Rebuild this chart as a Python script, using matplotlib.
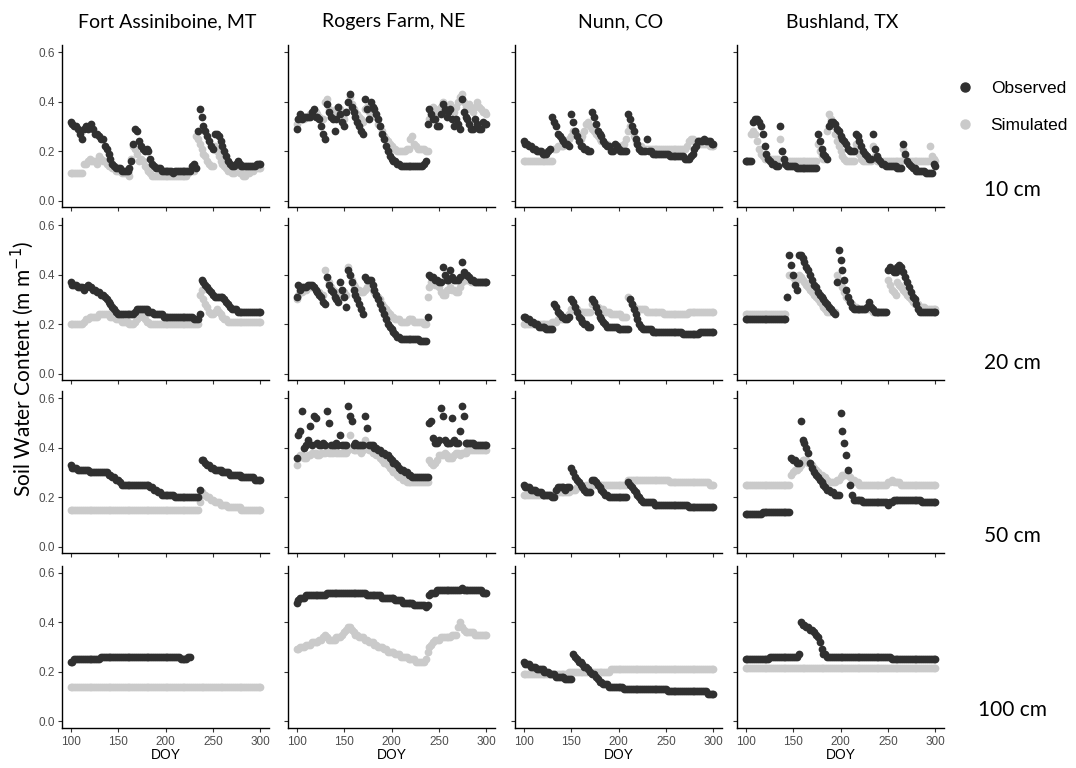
import numpy as np
import matplotlib
matplotlib.use('Agg')
import matplotlib.pyplot as plt
from matplotlib.lines import Line2D

# soil water content (percent by volume), every 2nd DOY from 100 to 300
# None = no data

fa_10_obs = [32,31,30,30,29,27,25,29,30,29,
             30,31,29,27,27,26,25,25,22,21,
             19,17,15,14,13,13,13,12,12,12,
             12,13,16,23,29,28,24,22,21,20,
             21,20,17,15,14,13,13,13,12,12,
             12,12,12,12,11,12,12,12,12,12,
             12,12,12,12,14,15,13,28,37,34,
             30,28,26,24,22,21,27,27,26,24,
             22,20,18,16,15,14,14,15,16,15,
             14,14,14,14,14,14,14,14,15,15,
             15]
fa_10_sim = [11,11,11,11,11,11,11,15,15,16,
             17,16,16,16,15,18,17,16,16,15,
             14,14,13,13,12,12,12,11,11,11,
             11,10,17,22,21,19,16,17,16,14,
             13,12,11,10,10,10,10,10,10,10,
             10,10,10,10,10,10,10,10,10,10,
             10,10,11,12,12,12,26,25,23,21,
             19,18,16,15,14,14,22,20,18,16,
             15,14,13,12,12,11,11,13,12,11,
             11,10,10,11,11,12,12,13,13,13,
             13]
rf_10_obs = [29,33,35,33,34,34,34,34,36,37,
             34,34,33,30,27,25,39,36,34,33,
             28,33,38,35,32,30,36,40,43,38,
             36,34,32,30,28,27,41,37,33,40,
             38,37,35,33,30,27,25,22,20,18,
             17,16,16,15,15,14,14,14,14,14,
             14,14,14,14,14,14,14,15,16,31,
             37,35,33,33,30,30,35,39,37,34,
             36,37,33,30,33,31,29,41,36,34,
             33,31,29,29,33,31,29,29,32,31,
             31]
rf_10_sim = [31,33,34,33,33,34,34,35,35,35,
             36,35,34,33,33,40,41,37,35,36,
             35,37,38,37,35,33,36,40,42,39,
             37,36,35,34,33,32,37,38,36,37,
             36,35,34,31,30,28,26,25,24,23,
             22,21,21,20,20,20,20,20,21,21,
             25,26,23,22,21,21,21,21,20,20,
             33,36,38,37,35,36,38,40,38,37,
             38,39,37,36,38,40,42,43,40,38,
             37,39,37,36,38,40,38,37,36,36,
             35]
nu_10_obs = [24,23,23,22,22,21,21,20,20,20,
             19,19,19,20,21,34,32,30,27,26,
             25,24,23,23,22,35,32,28,26,24,
             22,22,21,21,20,20,36,34,31,28,
             27,26,24,23,22,22,20,20,23,22,
             21,20,20,20,20,35,33,30,28,25,
             23,21,20,20,20,25,20,20,19,19,
             19,19,19,19,19,19,19,18,18,18,
             18,18,18,18,18,17,17,17,18,19,
             21,22,24,24,24,25,24,24,24,23,
             23]
nu_10_sim = [16,16,16,16,16,16,16,16,16,16,
             16,16,16,16,16,16,21,21,22,22,
             22,22,23,24,25,26,28,28,27,26,
             25,26,28,31,32,30,29,28,27,26,
             25,24,24,23,23,22,22,22,22,22,
             22,22,22,23,25,28,30,28,26,24,
             23,22,22,21,21,21,21,21,21,21,
             21,21,21,21,21,21,21,21,21,21,
             21,21,21,21,21,21,22,24,25,25,
             24,24,24,23,23,23,23,23,22,22,
             22]
bu_10_obs = [16,16,16,16,32,33,33,32,30,27,
             22,19,17,16,15,15,14,14,30,20,
             17,15,14,14,14,14,14,13,13,13,
             13,13,13,13,13,13,13,13,27,24,
             21,19,18,17,30,32,32,31,29,28,
             26,25,24,23,21,20,20,20,27,26,
             24,22,20,19,18,17,17,27,21,18,
             17,16,15,15,14,14,14,14,14,14,
             13,13,13,23,19,16,15,14,13,13,
             12,12,12,12,12,11,11,11,11,15,
             14]
bu_10_sim = [16,16,16,27,28,27,24,21,19,18,
             17,17,17,17,17,17,17,17,25,20,
             17,16,16,16,16,16,16,16,16,16,
             16,16,16,16,16,16,16,16,23,20,
             18,17,17,28,35,33,30,27,24,22,
             20,18,17,16,16,16,16,16,23,21,
             19,17,16,16,16,16,16,22,18,16,
             16,16,16,16,16,16,16,16,16,16,
             16,16,16,21,18,16,16,16,16,16,
             16,16,16,16,16,16,16,22,18,17,
             16]

fa_20_obs = [37,36,36,36,35,35,35,34,35,36,
             35,35,34,34,33,33,32,32,31,30,
             29,28,27,26,25,24,24,24,24,24,
             24,24,24,24,25,26,26,26,26,26,
             26,25,25,25,24,24,24,24,24,23,
             23,23,23,23,23,23,23,23,23,23,
             23,23,23,23,23,22,22,22,24,38,
             37,36,35,34,33,32,31,31,31,31,
             31,30,29,28,27,26,26,26,25,25,
             25,25,25,25,25,25,25,25,25,25,
             25]
fa_20_sim = [20,20,20,20,20,20,20,21,22,22,
             23,23,23,23,23,24,24,24,24,24,
             24,23,23,23,22,22,22,21,21,21,
             21,20,20,20,21,22,23,24,23,22,
             21,21,20,20,20,20,20,20,20,20,
             20,20,20,20,20,20,20,20,20,20,
             20,20,20,20,20,20,20,20,32,34,
             30,28,27,25,24,24,25,26,25,24,
             23,22,22,21,21,21,21,21,21,21,
             21,21,21,21,21,21,21,21,21,21,
             21]
rf_20_obs = [31,36,34,35,35,35,36,36,36,35,
             34,33,32,31,29,28,39,36,34,33,
             31,30,29,37,34,31,27,42,40,37,
             34,32,30,28,26,24,39,38,38,38,
             36,34,32,30,28,26,24,22,20,19,
             18,17,16,15,15,14,14,14,14,14,
             14,14,14,14,14,13,13,13,13,23,
             40,39,39,38,38,37,37,43,40,38,
             38,42,39,38,38,38,39,45,41,40,
             40,39,38,38,37,37,37,37,37,37,
             37]
rf_20_sim = [30,32,33,33,34,34,35,35,35,35,
             34,33,33,32,32,42,39,37,35,34,
             33,33,32,33,34,33,32,43,40,38,
             36,35,34,34,33,33,34,35,35,35,
             34,33,32,31,30,28,27,26,25,24,
             23,23,22,22,22,21,21,21,21,22,
             22,22,21,21,21,21,21,20,20,31,
             35,37,37,36,36,35,33,32,32,34,
             34,35,34,34,33,33,35,37,38,38,
             38,38,37,37,37,37,37,37,37,37,
             37]
nu_20_obs = [23,23,22,22,21,21,20,20,19,19,
             19,19,18,18,18,18,28,27,25,24,
             23,23,22,22,23,30,29,27,25,23,
             22,21,20,20,19,19,30,29,27,25,
             23,22,21,20,19,19,19,19,19,19,
             18,18,18,18,18,18,30,28,26,24,
             22,20,19,18,18,18,18,18,17,17,
             17,17,17,17,17,17,17,17,17,17,
             17,17,17,17,16,16,16,16,16,16,
             16,16,16,17,17,17,17,17,17,17,
             17]
nu_20_sim = [20,20,20,20,20,20,20,20,20,20,
             20,20,20,20,20,21,21,21,22,22,
             22,22,23,23,24,26,26,26,26,25,
             25,25,25,25,25,25,28,28,27,27,
             26,26,26,25,25,25,24,24,24,24,
             24,24,23,23,23,31,30,28,27,26,
             26,26,26,26,26,25,25,25,25,25,
             25,25,25,25,24,24,24,24,24,24,
             24,24,24,24,24,24,24,25,25,25,
             25,25,25,25,25,25,25,25,25,25,
             25]
bu_20_obs = [22,22,22,22,22,22,22,22,22,22,
             22,22,22,22,22,22,22,22,22,22,
             22,22,31,48,44,40,36,34,48,48,
             47,45,43,42,40,38,36,35,33,32,
             31,30,29,28,27,26,25,24,37,50,
             46,42,38,34,31,29,27,26,26,26,
             26,26,26,26,27,29,27,26,25,25,
             25,25,25,25,25,42,43,42,41,41,
             43,44,43,41,39,37,35,33,31,30,
             28,26,25,25,25,25,25,25,25,25,
             25]
bu_20_sim = [24,24,24,24,24,24,24,24,24,24,
             24,24,24,24,24,24,24,24,24,24,
             24,24,31,40,40,39,38,38,40,39,
             38,37,36,35,34,33,32,31,30,29,
             28,27,26,25,25,25,25,25,40,38,
             37,35,33,31,30,29,28,27,27,26,
             26,26,26,26,26,26,26,25,25,25,
             25,25,25,25,25,38,36,34,33,32,
             37,36,35,34,33,32,31,30,29,28,
             28,28,27,27,27,26,26,26,26,26,
             26]

fa_50_obs = [33,32,32,32,31,31,31,31,31,31,
             30,30,30,30,30,30,30,30,30,30,
             29,29,28,28,27,27,26,25,25,25,
             25,25,25,25,25,25,25,25,25,25,
             25,25,24,24,23,23,22,22,21,21,
             21,21,21,21,21,20,20,20,20,20,
             20,20,20,20,20,20,20,20,23,35,
             35,34,33,33,32,32,31,31,31,31,
             30,30,30,30,29,29,29,29,29,29,
             28,28,28,28,28,28,28,27,27,27,
             27]
fa_50_sim = [15,15,15,15,15,15,15,15,15,15,
             15,15,15,15,15,15,15,15,15,15,
             15,15,15,15,15,15,15,15,15,15,
             15,15,15,15,15,15,15,15,15,15,
             15,15,15,15,15,15,15,15,15,15,
             15,15,15,15,15,15,15,15,15,15,
             15,15,15,15,15,15,15,15,18,22,
             21,21,20,20,19,19,18,18,18,17,
             17,17,17,16,16,16,16,16,16,16,
             15,15,15,15,15,15,15,15,15,15,
             15]
rf_50_obs = [36,45,47,55,40,41,43,49,41,53,
             52,42,41,41,42,41,55,50,41,41,
             41,42,41,45,41,41,41,57,53,51,
             41,42,41,41,41,41,53,48,41,41,
             41,40,40,39,39,38,38,37,37,36,
             35,34,34,33,32,31,31,30,30,29,
             29,28,28,28,28,28,28,28,28,28,
             50,51,44,42,42,43,56,53,43,42,
             42,42,52,43,42,42,47,57,53,42,
             42,42,42,42,41,41,41,41,41,41,
             41]
rf_50_sim = [33,36,37,37,36,36,37,37,38,38,
             38,37,37,38,38,38,40,38,38,38,
             39,38,38,38,38,38,38,39,45,40,
             39,39,39,39,38,39,43,40,39,39,
             38,38,37,37,36,35,34,34,33,32,
             31,30,30,29,28,28,27,27,26,26,
             26,26,26,26,26,26,26,26,26,26,
             35,34,33,34,35,37,37,37,38,37,
             36,36,36,37,38,38,37,38,38,38,
             39,39,39,39,39,39,39,39,39,39,
             39]
nu_50_obs = [25,24,24,24,23,23,23,22,22,22,
             21,21,21,21,21,20,20,23,24,24,
             24,24,23,24,24,32,30,28,27,26,
             25,24,23,22,22,22,27,27,26,25,
             24,23,22,21,21,20,20,20,20,20,
             20,20,20,20,20,26,25,24,23,22,
             21,20,19,18,18,18,18,18,18,17,
             17,17,17,17,17,17,17,17,17,17,
             17,17,17,17,17,17,17,16,16,16,
             16,16,16,16,16,16,16,16,16,16,
             16]
nu_50_sim = [21,21,21,21,21,21,21,21,21,21,
             21,21,21,21,21,21,21,22,22,22,
             22,22,22,22,22,23,23,23,24,24,
             24,24,24,25,25,25,25,25,25,25,
             25,25,25,25,25,25,25,25,25,25,
             25,25,25,25,25,27,27,27,27,27,
             27,27,27,27,27,27,27,27,27,27,
             27,27,27,27,27,27,27,26,26,26,
             26,26,26,26,26,26,26,26,26,26,
             26,26,26,26,26,26,26,26,25,25,
             25]
bu_50_obs = [13,13,13,13,13,13,13,13,13,14,
             14,14,14,14,14,14,14,14,14,14,
             14,14,14,14,36,35,35,34,34,51,
             43,42,40,38,34,32,30,29,28,27,
             26,25,24,23,23,22,22,21,21,21,
             54,47,42,37,31,25,21,19,19,19,
             19,19,18,18,18,18,18,18,18,18,
             18,18,18,18,18,17,18,18,19,19,
             19,19,19,19,19,19,19,19,19,19,
             19,19,19,18,18,18,18,18,18,18,
             18]
bu_50_sim = [25,25,25,25,25,25,25,25,25,25,
             25,25,25,25,25,25,25,25,25,25,
             25,25,25,25,29,30,31,31,32,33,
             35,35,35,34,34,33,32,31,30,29,
             29,28,28,27,26,26,26,26,27,27,
             28,29,29,29,29,28,27,27,26,26,
             25,25,25,25,25,25,25,25,25,25,
             25,25,25,25,25,26,26,27,26,26,
             26,26,25,25,25,25,25,25,25,25,
             25,25,25,25,25,25,25,25,25,25,
             25]

# Fort Assiniboine 100 cm observations stop at DOY 226
fa_100_obs = [24,24,25,25,25,25,25,25,25,25,
              25,25,25,25,25,25,26,26,26,26,
              26,26,26,26,26,26,26,26,26,26,
              26,26,26,26,26,26,26,26,26,26,
              26,26,26,26,26,26,26,26,26,26,
              26,26,26,26,26,26,26,26,25,25,
              25,25,26,26]
fa_100_sim = [14,14,14,14,14,14,14,14,14,14,
              14,14,14,14,14,14,14,14,14,14,
              14,14,14,14,14,14,14,14,14,14,
              14,14,14,14,14,14,14,14,14,14,
              14,14,14,14,14,14,14,14,14,14,
              14,14,14,14,14,14,14,14,14,14,
              14,14,14,14,14,14,14,14,14,14,
              14,14,14,14,14,14,14,14,14,14,
              14,14,14,14,14,14,14,14,14,14,
              14,14,14,14,14,14,14,14,14,14,
              14]
rf_100_obs = [48,49,50,50,50,51,51,51,51,51,
              51,51,51,51,51,51,52,52,52,52,
              52,52,52,52,52,52,52,52,52,52,
              52,52,52,52,52,52,52,51,51,51,
              51,51,51,51,51,50,50,50,50,50,
              50,50,49,49,49,49,48,48,48,48,
              48,48,47,47,47,47,47,47,46,47,
              51,52,52,52,53,53,53,53,53,53,
              53,53,53,53,53,53,53,54,53,53,
              53,53,53,53,53,53,53,53,52,52,
              52]
rf_100_sim = [29,29,30,30,30,31,31,31,32,32,
              32,32,33,33,34,35,34,33,33,33,
              33,34,34,34,35,36,37,38,38,37,
              36,35,35,34,34,34,33,33,32,32,
              32,31,31,30,30,30,29,29,28,28,
              28,28,27,27,27,26,26,26,26,25,
              25,25,25,24,24,24,24,24,25,28,
              30,31,32,33,33,33,34,34,34,34,
              34,34,35,35,35,38,40,38,37,36,
              36,36,36,36,35,35,35,35,35,35,
              35]
nu_100_obs = [24,23,23,23,22,22,22,21,21,21,
              21,20,20,20,19,19,19,18,18,18,
              18,18,17,17,17,17,27,26,25,24,
              24,23,22,22,21,20,19,19,18,17,
              16,16,15,15,15,14,14,14,14,14,
              14,14,14,13,13,13,13,13,13,13,
              13,13,13,13,13,13,13,13,13,13,
              13,13,13,13,13,13,12,12,12,12,
              12,12,12,12,12,12,12,12,12,12,
              12,12,12,12,12,12,12,11,11,11,
              11]
nu_100_sim = [19,19,19,19,19,19,19,19,19,19,
              19,19,19,19,19,19,19,19,19,19,
              19,19,19,19,20,20,20,20,20,20,
              20,20,20,20,20,20,20,20,20,20,
              20,20,20,20,20,20,21,21,21,21,
              21,21,21,21,21,21,21,21,21,21,
              21,21,21,21,21,21,21,21,21,21,
              21,21,21,21,21,21,21,21,21,21,
              21,21,21,21,21,21,21,21,21,21,
              21,21,21,21,21,21,21,21,21,21,
              21]
bu_100_obs = [25,25,25,25,25,25,25,25,25,25,
              25,25,25,26,26,26,26,26,26,26,
              26,26,26,26,26,26,26,26,27,40,
              39,39,38,38,37,37,36,35,34,32,
              29,27,27,26,26,26,26,26,26,26,
              26,26,26,26,26,26,26,26,26,26,
              26,26,26,26,26,26,26,26,26,26,
              26,26,26,26,26,26,26,25,25,25,
              25,25,25,25,25,25,25,25,25,25,
              25,25,25,25,25,25,25,25,25,25,
              25]
bu_100_sim = [21.5,21.5,21.5,21.5,21.5,21.5,21.5,21.5,21.5,21.5,
              21.5,21.5,21.5,21.5,21.5,21.5,21.5,21.5,21.5,21.5,
              21.5,21.5,21.5,21.5,21.5,21.5,21.5,21.5,21.5,21.5,
              21.5,21.5,21.5,21.5,21.5,21.5,21.5,21.5,21.5,21.5,
              21.5,21.5,21.5,21.5,21.5,21.5,21.5,21.5,21.5,21.5,
              21.5,21.5,21.5,21.5,21.5,21.5,21.5,21.5,21.5,21.5,
              21.5,21.5,21.5,21.5,21.5,21.5,21.5,21.5,21.5,21.5,
              21.5,21.5,21.5,21.5,21.5,21.5,21.5,21.5,21.5,21.5,
              21.5,21.5,21.5,21.5,21.5,21.5,21.5,21.5,21.5,21.5,
              21.5,21.5,21.5,21.5,21.5,21.5,21.5,21.5,21.5,21.5,
              21.5]

sites = ['Fort Assiniboine, MT', 'Rogers Farm, NE', 'Nunn, CO', 'Bushland, TX']
depths = ['10 cm', '20 cm', '50 cm', '100 cm']
obs_grid = [[fa_10_obs, rf_10_obs, nu_10_obs, bu_10_obs],
            [fa_20_obs, rf_20_obs, nu_20_obs, bu_20_obs],
            [fa_50_obs, rf_50_obs, nu_50_obs, bu_50_obs],
            [fa_100_obs, rf_100_obs, nu_100_obs, bu_100_obs]]
sim_grid = [[fa_10_sim, rf_10_sim, nu_10_sim, bu_10_sim],
            [fa_20_sim, rf_20_sim, nu_20_sim, bu_20_sim],
            [fa_50_sim, rf_50_sim, nu_50_sim, bu_50_sim],
            [fa_100_sim, rf_100_sim, nu_100_sim, bu_100_sim]]
x_ticks = [100, 150, 200, 250, 300]
y_ticks = [0.0, 0.2, 0.4, 0.6]

dark = '#303030'
light = '#cacaca'
title_font = 'Lato'
small_font = 'Liberation Sans'

W, H = 1076, 768
fig = plt.figure(figsize=(W / 100, H / 100), dpi=100)

col_left = [62, 288, 515, 737]
row_bottom = [207, 380, 553, 727.5]
ax_w, ax_h = 207, 162

for r in range(4):
    for c in range(4):
        ax = fig.add_axes([col_left[c] / W, 1 - row_bottom[r] / H, ax_w / W, ax_h / H])
        for series, col in ((sim_grid[r][c], light), (obs_grid[r][c], dark)):
            v = np.array([np.nan if s is None else s for s in series], dtype=float) / 100.0
            doy = 100 + 2 * np.arange(len(v))
            ax.scatter(doy, v, s=31, c=col, linewidths=0, zorder=2)
        ax.set_xlim(91, 309)
        ax.set_ylim(-0.026, 0.63)
        ax.set_xticks(x_ticks)
        ax.set_yticks(y_ticks)
        ax.spines['top'].set_visible(False)
        ax.spines['right'].set_visible(False)
        for sp in ('left', 'bottom'):
            ax.spines[sp].set_linewidth(1.0)
            ax.spines[sp].set_color('black')
        ax.tick_params(length=3, width=0.8, color='#333333', labelsize=8.5,
                       labelcolor='#4d4d4d', pad=2)
        ax.tick_params(axis='x', pad=3)
        if c == 0:
            ax.set_yticklabels(['%.1f' % t for t in y_ticks], fontfamily=small_font)
        else:
            ax.set_yticklabels([])
        if r == 3:
            ax.set_xticklabels([str(t) for t in x_ticks], fontfamily=small_font)
            ax.set_xlabel('DOY', fontsize=10, fontfamily=small_font, labelpad=0)
        else:
            ax.set_xticklabels([])
        if r == 0:
            fig.text((col_left[c] + ax_w / 2 + 2) / W, 1 - 22 / H, sites[c],
                     ha='center', va='center', fontsize=14, fontfamily=title_font)
    fig.text(1012 / W, 1 - (row_bottom[r] - 17) / H, depths[r], ha='center', va='center',
             fontsize=15, fontfamily=title_font)

fig.text(22 / W, 1 - 369 / H, 'Soil Water Content (m m$^{-1}$)', rotation=90,
         ha='center', va='center', fontsize=15, fontfamily=title_font)

handles = [Line2D([0], [0], marker='o', ls='none', color=dark, markersize=6.5),
           Line2D([0], [0], marker='o', ls='none', color=light, markersize=6.5)]
fig.legend(handles, ['Observed', 'Simulated'], loc='upper left',
           bbox_to_anchor=(949 / W, 1 - 74 / H), frameon=False,
           prop={'family': small_font, 'size': 12.5},
           handletextpad=1.0, labelspacing=1.25, handlelength=1.0, borderaxespad=0)

fig.savefig('out.png', dpi=100)
